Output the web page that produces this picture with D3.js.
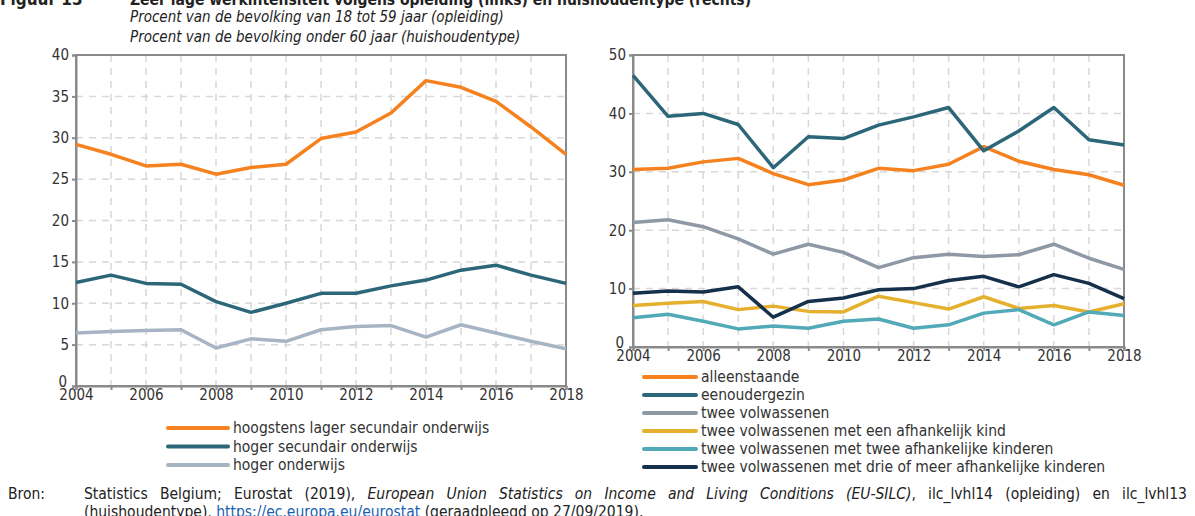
<!DOCTYPE html>
<html>
<head>
<meta charset="utf-8">
<script src="https://cdn.jsdelivr.net/npm/d3@7"></script>
<style>
  body { margin: 0; background: #fff; }
  svg { display: block; font-family: "DejaVu Sans Condensed", "Liberation Sans Narrow", sans-serif; }
</style>
</head>
<body>
<svg id="chart" width="1195" height="516"></svg>
<script>
// years on the x axis
const years = d3.range(2004, 2019);
const yearTicks = [2004, 2006, 2008, 2010, 2012, 2014, 2016, 2018];

// left panel: by education (% of population 18-59)
const eduNames = ["hoogstens lager secundair onderwijs", "hoger secundair onderwijs", "hoger onderwijs"];
const eduLow  = [29.2, 28.0, 26.6, 26.8, 25.6, 26.4, 26.8, 29.9, 30.7, 33.0, 36.9, 36.1, 34.4, 31.3, 28.0];
const eduMid  = [12.5, 13.4, 12.4, 12.3, 10.2, 8.9, 10.0, 11.2, 11.2, 12.1, 12.8, 14.0, 14.6, 13.4, 12.4];
const eduHigh = [6.4, 6.6, 6.7, 6.8, 4.6, 5.7, 5.4, 6.8, 7.2, 7.3, 5.9, 7.4, 6.4, 5.4, 4.5];
const leftTicks = [0, 5, 10, 15, 20, 25, 30, 35, 40];

// right panel: by household type (% of population under 60)
const hhNames = ["alleenstaande", "eenoudergezin", "twee volwassenen",
  "twee volwassenen met een afhankelijk kind",
  "twee volwassenen met twee afhankelijke kinderen",
  "twee volwassenen met drie of meer afhankelijke kinderen"];
const hhSingle   = [30.4, 30.6, 31.7, 32.3, 29.7, 27.8, 28.6, 30.6, 30.2, 31.3, 34.3, 31.8, 30.4, 29.5, 27.7];
const hhParent   = [46.5, 39.5, 40.0, 38.1, 30.7, 36.0, 35.7, 38.0, 39.4, 41.0, 33.6, 37.0, 41.0, 35.5, 34.6];
const hhTwo      = [21.3, 21.8, 20.6, 18.5, 15.9, 17.6, 16.2, 13.6, 15.3, 15.9, 15.5, 15.8, 17.6, 15.2, 13.3];
const hhOneKid   = [7.1, 7.5, 7.8, 6.4, 7.0, 6.1, 6.0, 8.7, 7.6, 6.5, 8.6, 6.6, 7.1, 6.0, 7.4];
const hhTwoKids  = [5.0, 5.6, 4.4, 3.1, 3.6, 3.2, 4.4, 4.8, 3.2, 3.8, 5.8, 6.4, 3.8, 6.0, 5.4];
const hhThreeKid = [9.2, 9.6, 9.4, 10.3, 5.1, 7.8, 8.4, 9.8, 10.0, 11.4, 12.1, 10.3, 12.4, 10.9, 8.3];
const rightTicks = [0, 10, 20, 30, 40, 50];

const eduColors = ["#f5821f", "#2c6679", "#a7b4c4"];
const hhColors  = ["#f5821f", "#2c6679", "#8f99a6", "#e6b02f", "#52a9b8", "#14304b"];

const svg = d3.select("#chart");
const axisColor = "#8a8a8a";
const gridColor = "#d8d8d8";

// title block (top is cut off in the source)
svg.append("text")
  .attr("x", 0).attr("y", 5)
  .style("font-weight", "bold").style("font-size", "17px").style("fill", "#222")
  .text("Figuur 13");
svg.append("text")
  .attr("x", 130).attr("y", 5)
  .style("font-weight", "bold").style("font-size", "15.5px").style("fill", "#222")
  .text("Zeer lage werkintensiteit volgens opleiding (links) en huishoudentype (rechts)");
svg.append("text")
  .attr("x", 130).attr("y", 22)
  .style("font-style", "italic").style("font-size", "15px").style("fill", "#222")
  .text("Procent van de bevolking van 18 tot 59 jaar (opleiding)");
svg.append("text")
  .attr("x", 130).attr("y", 42)
  .style("font-style", "italic").style("font-size", "15px").style("fill", "#222")
  .text("Procent van de bevolking onder 60 jaar (huishoudentype)");

function drawPanel(opts) {
  const { left, right, top, bottom, yMax, ticks, series, colors } = opts;
  const x = d3.scaleLinear().domain([2004, 2018]).range([left, right]);
  const y = d3.scaleLinear().domain([0, yMax]).range([bottom, top]);
  const g = svg.append("g");

  // dashed grid
  g.append("g").selectAll("line.vg")
    .data(years.slice(1, -1))
    .enter().append("line")
    .attr("x1", d => x(d)).attr("x2", d => x(d))
    .attr("y1", top).attr("y2", bottom)
    .attr("stroke", gridColor).attr("stroke-width", 1.5)
    .attr("stroke-dasharray", "7,6");
  g.append("g").selectAll("line.hg")
    .data(ticks.slice(1, -1))
    .enter().append("line")
    .attr("x1", left).attr("x2", right)
    .attr("y1", d => y(d)).attr("y2", d => y(d))
    .attr("stroke", gridColor).attr("stroke-width", 1.5)
    .attr("stroke-dasharray", "7,6");

  // frame
  g.append("rect")
    .attr("x", left).attr("y", top)
    .attr("width", right - left).attr("height", bottom - top)
    .attr("fill", "none").attr("stroke", axisColor).attr("stroke-width", 2);

  // axes
  const yAxis = g.append("g")
    .attr("transform", `translate(${left},0)`)
    .call(d3.axisLeft(y).tickValues(ticks).tickSize(4).tickPadding(3));
  const xAxis = g.append("g")
    .attr("transform", `translate(0,${bottom})`)
    .call(d3.axisBottom(x).tickValues(years).tickSize(4)
      .tickFormat(d => yearTicks.includes(d) ? d : ""));
  [xAxis, yAxis].forEach(a => {
    a.select(".domain").attr("stroke", axisColor).attr("stroke-width", 2);
    a.selectAll(".tick line").attr("stroke", axisColor).attr("stroke-width", 2);
    a.selectAll("text").style("font-size", "15px").style("fill", "#333")
      .style("font-family", "\"DejaVu Sans Condensed\", sans-serif");
  });
  xAxis.selectAll("text").attr("dy", "0.71em").attr("y", 3);
  // zero label sits low, just left of the origin
  yAxis.selectAll(".tick").filter(d => d === 0).select("text")
    .attr("dy", "0.05em").attr("x", -9);

  const line = d3.line().x((d, i) => x(years[i])).y(d => y(d));
  series.forEach((s, i) => {
    g.append("path")
      .datum(s)
      .attr("d", line)
      .attr("fill", "none")
      .attr("stroke", colors[i])
      .attr("stroke-width", 3.5)
      .attr("stroke-linejoin", "round");
  });
}

drawPanel({
  left: 76, right: 566, top: 55, bottom: 386, yMax: 40, ticks: leftTicks,
  series: [eduLow, eduMid, eduHigh], colors: eduColors
});
drawPanel({
  left: 633, right: 1124, top: 55, bottom: 347, yMax: 50, ticks: rightTicks,
  series: [hhSingle, hhParent, hhTwo, hhOneKid, hhTwoKids, hhThreeKid], colors: hhColors
});

// legends
function drawLegend(names, colors, x0, y0, step, lineLen) {
  const lg = svg.append("g");
  names.forEach((n, i) => {
    const yy = y0 + i * step;
    lg.append("line")
      .attr("x1", x0).attr("x2", x0 + lineLen)
      .attr("y1", yy).attr("y2", yy)
      .attr("stroke", colors[i]).attr("stroke-width", 4)
      .attr("stroke-linecap", "round");
    lg.append("text")
      .attr("x", x0 + lineLen + 5).attr("y", yy)
      .attr("dy", "0.35em")
      .style("font-size", "15.5px").style("fill", "#333")
      .text(n);
  });
}
drawLegend(eduNames, eduColors, 168, 428, 18.5, 60);
drawLegend(hhNames, hhColors, 644, 377, 18, 52);

// source note
const src = svg.append("g").style("font-size", "15.5px").style("fill", "#222");
src.append("text").attr("x", 8).attr("y", 499).text("Bron:");
const l1 = src.append("text").attr("x", 84).attr("y", 499);
l1.append("tspan").text("Statistics Belgium; Eurostat (2019), ");
l1.append("tspan").style("font-style", "italic")
  .text("European Union Statistics on Income and Living Conditions (EU-SILC)");
l1.append("tspan").text(", ilc_lvhl14 (opleiding) en ilc_lvhl13");
// justify first line by spreading word gaps
const target = 1187 - 84;
const w = l1.node().getComputedTextLength();
const gaps = l1.text().split(" ").length - 1;
l1.attr("word-spacing", (target - w) / gaps);

const l2 = src.append("text").attr("x", 84).attr("y", 517);
l2.append("tspan").text("(huishoudentype), ");
l2.append("tspan").style("fill", "#1a5fb4").style("text-decoration", "underline")
  .text("https://ec.europa.eu/eurostat");
l2.append("tspan").text(" (geraadpleegd op 27/09/2019).");
</script>
</body>
</html>
